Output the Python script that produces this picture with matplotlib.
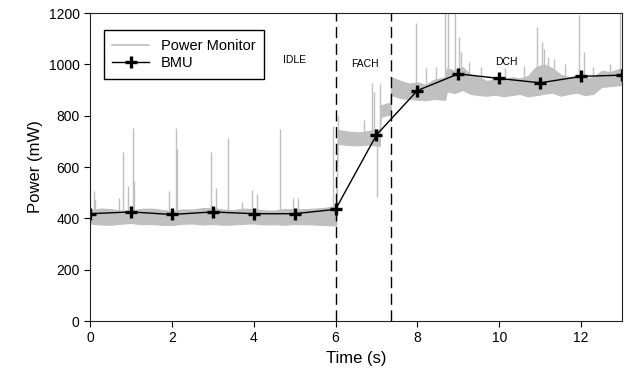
import matplotlib
matplotlib.use("Agg")
import matplotlib.pyplot as plt
import numpy as np

plt.rcParams['font.family'] = ['Liberation Sans', 'DejaVu Sans']

# BMU samples (one per second)
bmu_t = [0, 1, 2, 3, 4, 5, 6, 7, 8, 9, 10, 11, 12, 13]
bmu_p = [418, 425, 415, 425, 418, 418, 435, 725, 898, 963, 945, 928, 953, 958]

band_t = [0, 0.25, 0.5, 0.75, 1, 1.25, 1.5, 1.75, 2, 2.25, 2.5, 2.75, 3,
          3.25, 3.5, 3.75, 4, 4.25, 4.5, 4.75, 5, 5.25, 5.5, 5.75, 6.02,
          6.05, 6.3, 6.55, 6.8, 7.08,
          7.1, 7.2, 7.34,
          7.36, 7.6, 7.8, 8.0, 8.2, 8.4, 8.68,
          8.72, 8.9, 9.1, 9.3, 9.5, 9.7, 9.9, 10.1, 10.3, 10.5, 10.7, 10.9,
          11.1, 11.3, 11.5, 11.7, 11.9, 12.1, 12.3, 12.5, 12.7, 13]
band_lo = [380, 376, 375, 379, 382, 377, 378, 375, 374, 379, 380, 376, 378,
           375, 376, 379, 380, 376, 377, 375, 378, 377, 376, 374, 372,
           690, 686, 684, 688, 682,
           795, 800, 805,
           880, 868, 865, 862, 860, 865, 862,
           895, 888, 900, 885, 880, 878, 882, 876, 880, 885, 875, 880,
           885, 890, 878, 885, 890, 880, 885, 912, 915, 920]
band_hi = [432, 438, 436, 430, 430, 437, 438, 433, 428, 435, 434, 440, 440,
           434, 432, 438, 436, 431, 430, 437, 434, 436, 438, 441, 450,
           745, 738, 735, 740, 748,
           840, 845, 850,
           950, 935, 925, 930, 920, 940, 950,
           985, 975, 990, 960, 950, 935, 945, 940, 950, 945, 955, 990,
           1000, 985, 960, 950, 955, 945, 950, 975, 970, 985]

# spikes of the power monitor trace: (time, peak)
spike_t = [0.09, 0.12, 0.70, 0.81, 0.93, 1.06, 1.08, 1.93, 2.09, 2.12, 2.95,
           3.08, 3.37, 3.72, 3.95, 4.08, 4.65, 4.96, 5.08, 5.94,
           6.06, 6.7, 6.89, 6.93, 7.02, 7.09,
           7.97, 8.2, 8.45, 8.68, 8.74, 8.92, 9.02, 9.07, 9.25, 9.55,
           10.15, 10.6, 10.92, 11.05, 11.1, 11.2, 11.35, 11.6,
           11.94, 12.08, 12.3, 12.7, 12.96]
spike_p = [506, 470, 480, 658, 526, 751, 546, 506, 751, 670, 658,
           518, 712, 463, 510, 496, 747, 479, 479, 758,
           800, 783, 927, 893, 484, 923,
           1162, 985, 990, 1200, 1200, 1200, 1108, 1049, 1010, 990,
           985, 995, 1147, 1088, 1060, 1030, 1020, 1000,
           1192, 1049, 990, 1000, 1200]

phase_edges = [6, 7.35]
phase_names = ['IDLE', 'FACH', 'DCH']
phase_pos = [(5.0, 1017), (6.72, 1001), (10.17, 1009)]

grey = '#c0c0c0'

fig = plt.figure(figsize=(6.3, 3.92), dpi=100)
ax = fig.add_axes([0.1429, 0.1811, 0.8444, 0.7857])

ax.fill_between(band_t, band_lo, band_hi, color=grey, linewidth=0.8, edgecolor=grey)
# base of each spike sits inside the band
mid = [(a + b) / 2 for a, b in zip(band_lo, band_hi)]
base = np.interp(spike_t, band_t, mid)
ax.vlines(spike_t, base, spike_p, color=grey, linewidth=1.0)

for x in phase_edges:
    ax.axvline(x, color='black', linewidth=1.0, linestyle=(0, (8, 4)))

ax.plot([], [], color=grey, linewidth=1.2, label='Power Monitor')
ax.plot(bmu_t, bmu_p, color='black', linewidth=1.0, marker='+',
        markersize=8, markeredgewidth=2.4, label='BMU')

for name, (x, y) in zip(phase_names, phase_pos):
    ax.text(x, y, name, fontsize=7.5, ha='center', va='center')

ax.set_xlim(0, 13)
ax.set_ylim(0, 1200)
ax.set_xticks([0, 2, 4, 6, 8, 10, 12])
ax.set_yticks([0, 200, 400, 600, 800, 1000, 1200])
ax.tick_params(direction='out', length=4, labelsize=10, top=False, right=False)
for s in ax.spines.values():
    s.set_color('#222222')
ax.set_xlabel('Time (s)', fontsize=12)
ax.set_ylabel('Power (mW)', fontsize=12)

leg = ax.legend(loc='upper left', bbox_to_anchor=(0.012, 0.968), fontsize=10.5,
                fancybox=False, edgecolor='black', framealpha=1,
                handlelength=2.5, borderpad=0.6, labelspacing=0.2)
leg.get_frame().set_linewidth(1.0)

fig.savefig('out.png', dpi=100)
